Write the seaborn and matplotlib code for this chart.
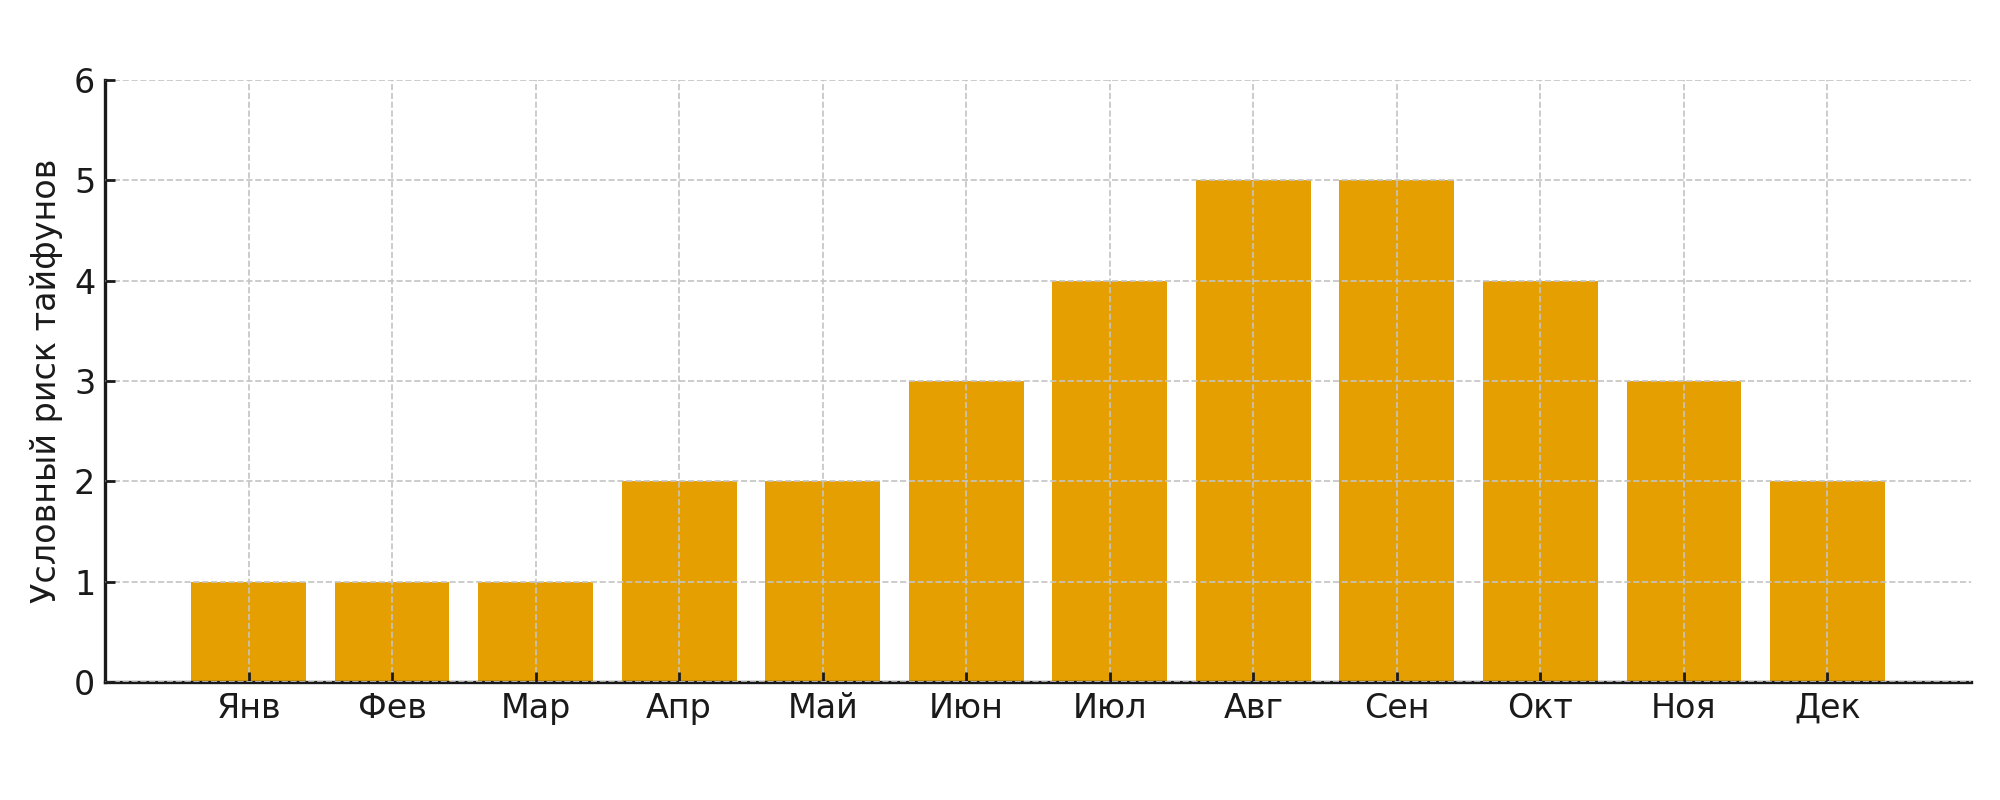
import matplotlib
matplotlib.use('Agg')
import matplotlib.pyplot as plt
import seaborn as sns
import pandas as pd

## Datos
meses = ['Янв', 'Фев', 'Мар', 'Апр', 'Май', 'Июн', 'Июл', 'Авг', 'Сен', 'Окт', 'Ноя', 'Дек']
riesgo = [1, 1, 1, 2, 2, 3, 4, 5, 5, 4, 3, 2]

df = pd.DataFrame({'mes': meses, 'riesgo': riesgo})

sns.set_style('ticks')
plt.rcParams['font.family'] = ['DejaVu Sans']

fig, ax = plt.subplots(figsize=(10, 4), dpi=200)
fig.subplots_adjust(left=0.0525, right=0.9855, bottom=0.1475, top=0.9)

sns.barplot(data=df, x='mes', y='riesgo', color='#E69F00', saturation=1, width=0.8,
            linewidth=0, ax=ax)

ax.set_xlim(-1, 12)
ax.set_ylim(0, 6)
ax.set_xlabel('')
ax.set_ylabel('Условный риск тайфунов', fontsize=12, color='#1a1a1a')
ax.tick_params(axis='both', labelsize=12, direction='in', length=3.5, width=1, colors='#1a1a1a')

## Grilla por encima de las barras
ax.set_axisbelow(False)
ax.grid(True, linestyle='--', linewidth=0.6, color='#c4c4c4')

sns.despine(ax=ax)
for s in ['left', 'bottom']:
    ax.spines[s].set_linewidth(1.2)
    ax.spines[s].set_color('#1a1a1a')

fig.savefig('out.png', dpi=200)
